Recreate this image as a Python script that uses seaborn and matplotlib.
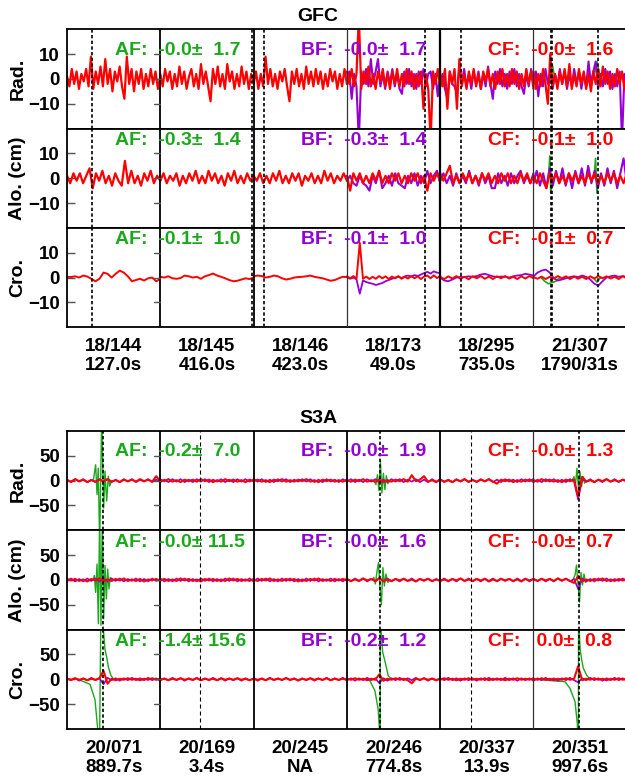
import numpy as np
import pandas as pd
import matplotlib
matplotlib.use('Agg')
import matplotlib.pyplot as plt
import matplotlib.transforms as mtransforms
import seaborn as sns

sns.set_theme(style='white')
plt.rcParams['font.family'] = ['Liberation Sans', 'DejaVu Sans']
plt.rcParams['font.weight'] = 'bold'
plt.rcParams['text.color'] = 'black'
plt.rcParams['ytick.color'] = 'black'
plt.rcParams['ytick.labelcolor'] = 'black'

# ---------------- data ----------------
row_names = ['Rad.', 'Alo. (cm)', 'Cro.']
gfc_seg_labels = ['18/144\n127.0s', '18/145\n416.0s', '18/146\n423.0s',
                  '18/173\n49.0s', '18/295\n735.0s', '21/307\n1790/31s']
s3a_seg_labels = ['20/071\n889.7s', '20/169\n3.4s', '20/245\nNA',
                  '20/246\n774.8s', '20/337\n13.9s', '20/351\n997.6s']

# event markers (segment units, each day segment spans 1)
gfc_events = [0.268, 1.980, 2.111, 3.837, 4.223, 5.184, 5.198, 5.688]
s3a_events = [0.383, 1.425, 3.360, 4.327, 5.489]

gfc_mean = {'AF': [-0.0, -0.3, -0.1], 'BF': [-0.0, -0.3, -0.1], 'CF': [-0.0, -0.1, -0.1]}
gfc_std = {'AF': [1.7, 1.4, 1.0], 'BF': [1.7, 1.4, 1.0], 'CF': [1.6, 1.0, 0.7]}
s3a_mean = {'AF': [-0.2, -0.0, -1.4], 'BF': [-0.0, -0.0, -0.2], 'CF': [-0.0, -0.0, 0.0]}
s3a_std = {'AF': [7.0, 11.5, 15.6], 'BF': [1.9, 1.6, 1.2], 'CF': [1.3, 0.7, 0.8]}

# GFC, CF (red) per segment
gfc_rad_cf = [
    [1,-3,4,-2,3,-4,2,-1,4,-3,9,-4,3,-2,5,-3,8,-2,4,-5,3,-1,5,-3,-8,9,-2,4,-5,3,-2,4,-4,2,-3,4,-2,3,-4,1],
    [2,-3,4,-1,3,-4,2,-3,5,-2,3,-4,1,4,-3,2,-4,6,-2,3,-3,-9,4,-2,5,-3,2,-4,6,-1,3,-4,2,-3,5,-2,3,-4,2,-1],
    [-2,3,-4,2,-3,9,-2,4,-3,2,-4,3,-1,4,-3,-9,3,-2,4,-3,2,-4,5,-2,3,-3,4,-2,3,-4,2,-3,4,-1,3,-4,2,-3,4,-2],
    [3,-2,4,-3,2,25,-4,3,-2,5,-3,2,-4,3,-1,4,-3,2,-4,3,-2,4,-3,2,-3,4,-2,3,-4,2,-3,3,-12,2,-4,-25,3,-2,4,-3],
    [2,-3,4,-12,3,-2,4,-12,8,-3,2,-4,3,-2,4,-3,2,-4,3,-1,4,-3,2,-4,3,-2,4,-3,2,-3,4,-2,3,-4,2,-3,4,-2,3,-4],
    [3,-4,2,-3,4,-2,-10,10,-3,2,-4,3,-2,4,-3,6,-4,2,-3,4,-2,3,-4,2,-5,3,-2,4,-3,5,-2,3,-4,2,-3,4,-2,3,-4,2],
]
gfc_alo_cf = [
    [1,-2,2,-1,2,-2,1,4,-4,2,-1,3,-2,1,-3,2,-1,-3,7,-2,3,-2,1,-3,2,-1,3,-2,1,-1],
    [-1,2,-2,1,-1,2,-3,1,-2,2,-1,3,-2,1,-2,3,-1,2,-2,1,-3,2,-1,3,-2,1,-2,2,-1,1],
    [1,-1,2,-2,1,-2,2,-1,3,-2,1,-2,2,-1,2,-3,1,-1,2,-2,1,-2,3,-1,2,-2,1,-1,2,-1],
    [1,-5,2,-1,2,-2,1,-2,2,-1,3,-2,1,-2,2,-1,2,-2,1,-2,2,-1,2,-2,1,-5,2,-1,2,-1],
    [2,-1,2,5,-2,1,-2,2,-1,2,-2,1,-2,2,-1,2,-2,1,-2,2,-1,2,-2,1,-2,2,-1,2,-2,1],
    [1,-2,2,-1,-4,2,-1,2,-2,1,-2,2,-1,2,-2,1,-2,2,-1,2,-2,1,-2,2,-1,2,-2,1,-2,2],
]
gfc_cro_cf = [
    [0.3,0.2,0.5,0,0.8,0.4,-0.5,-1.5,-0.5,2.0,1.5,0,1.5,2.8,2.0,0.5,-1.5,-1.0,-0.5,-1.2,-0.3,0,-1.5,-0.5],
    [0.3,0,0.5,-0.3,-0.5,-0.2,0.8,0.5,0,0.3,-0.5,0.5,1.0,1.6,0.8,0.3,-0.3,-1.0,-1.5,-1.3,-0.8,-0.3,-0.6,0],
    [0.5,0.8,0.6,0,0.3,0.8,0.5,-0.3,-0.8,-0.5,0,0.2,0.3,0.5,0.8,0.3,0,-0.3,-0.8,-1.3,-1.0,-0.3,0.3,0.2],
    [0.5,-0.3,0.6,-0.4,14,-0.5,0.4,-0.6,0.3,-0.5,0.6,-0.3,0.5,-0.6,0.4,-0.3,0.6,-0.5,0.3,-0.4,
     0.6,-0.3,0.5,-0.6,0.4,0.8,-0.3,0.9,-0.2,0.6],
    [0.3,-0.6,0.5,-0.4,0.6,-0.5,0.3,-0.7,0.5,-0.3,0.6,-0.5,0.4,-0.6,0.5,-0.3,0.6,-0.4,0.3,-0.6,0.5,-0.4,0.6,-0.3],
    [0.2,-0.5,0.4,-0.6,0.3,-0.4,0.6,-0.3,0.5,-0.6,0.4,-0.5,0.3,-0.6,0.5,-0.4,0.6,-0.3,0.5,-0.4,0.3,-0.6,0.5,-0.3],
]

# GFC, BF (purple) where it departs from CF
gfc_rad_bf = {
    3: [-2,3,-8,2,-3,-25,3,-2,4,-3,8,-2,3,8,-3,2,-4,3,-2,4,-3,2,-4,-6,3,-2,4,-3,2,-4,3,-2,4,-3,2,3,-4,2,-7,3],
    4: [-3,2,-4,-8,3,-2,-3,-6,5,-2,4,-3,2,-4,3,-2,3,-4,2,-3,5,-2,-8,3,-2,4,-3,2,-4,3,-2,4,-3,2,-3,-6,2,-3,4,-2],
    5: [-2,3,-7,2,-3,4,-2,3,-4,2,-3,4,-2,3,-4,2,-3,4,-2,3,-4,2,-3,7,-2,3,7,-4,2,-3,4,-2,3,-4,2,-3,3,-25,2,-3],
}
gfc_alo_bf = {
    3: [-1,1,-2,-3,1,-2,-3,-5,1,-2,3,-4,-2,1,-3,2,-2,-3,-4,1,-2,2,-3,1,-2,3,-2,1,3,-2],
    4: [-1,2,-2,1,-3,2,-2,1,-2,3,-2,1,-3,2,-2,1,-4,-4,2,-2,1,-3,2,-2,1,3,-2,1,-2,2],
    5: [-2,3,-3,2,-4,4,-3,3,-2,4,-3,2,-4,3,-2,4,-3,5,-2,3,-4,2,-3,4,-2,3,-4,2,8,-2],
}
gfc_cro_bf = {
    3: [0.2,-0.5,0,-0.8,-6.5,-1.2,-1.8,-2.2,-2.5,-3.0,-2.6,-2.2,-1.5,-1.0,-0.5,0,0.3,-0.2,0.5,0.8,
        0.4,1.0,0.6,1.2,1.8,2.3,1.6,2.5,2.0,1.8],
    4: [0,-1.2,-1.5,-0.8,0,0.3,0.2,0.5,0.3,0.6,1.2,1.5,1.0,0.5,0.2,0.4,0.3,0,0.5,0.8,1.0,1.5,1.2,0.8],
    5: [0.5,2.0,2.8,3.2,2.0,-0.3,-1.2,-0.8,-0.3,0.2,0.5,0.2,0.8,0.3,-0.8,-2.5,-3.2,-1.5,0,0.5,0.8,0.3,0.6,0.2],
}

# GFC, AF (green) pieces: (segment, times in segment, values)
gfc_rad_af = [(5, [0.17, 0.20, 0.23], [0, 6, 0]), (5, [0.64, 0.68, 0.72], [0, 7, 0])]
gfc_alo_af = [(5, [0.16, 0.175, 0.185, 0.20], [0, 9, -6, 0]), (5, [0.65, 0.665, 0.68, 0.695], [0, 8, -6, 0])]
gfc_cro_af = [(5, [0.08, 0.12, 0.16, 0.20, 0.24, 0.28], [0, -1.5, -2.5, -2.0, -1.5, 0]),
              (5, [0.64, 0.68, 0.72], [0, -1.8, 0])]

# S3A, CF (red)
s3a_rad_cf = [
    [1,-2,3,-1,2,-3,1,-2,2,-1,3,-2,1,-3,2,-1,2,-2,3,-1,2,-2,9,-2],
    [2,-1,3,-2,1,-3,2,-1,2,-2,3,-1,2,-3,1,-2,3,-1,2,-2,1,-3,2,-1],
    [-1,2,-2,1,-3,2,-1,3,-2,1,-2,2,-1,3,-2,1,-3,2,-1,2,-2,1,-2,2],
    [1,-2,2,-1,3,-2,1,-2,2,-3,1,-2,2,-1,3,-2,11,-1,2,9,-2,1,-3,2],
    [2,-2,1,-3,2,-1,3,-2,1,-2,2,-1,3,-2,-6,2,-1,2,-3,1,-2,2,-1,3],
    [1,-2,3,-1,2,-2,1,-3,2,-1,2,-32,8,-2,1,-3,2,-1,3,-2,1,-2,2,-1],
]
s3a_alo_cf = [
    [2,-1,2,-2,1,-3,2,-1,3,-2,1,-2,2,-1,3,-2,1,-2,2,-3,1,-1,2,-2],
    [-1,2,-2,1,-2,3,-1,2,-2,1,-3,2,-1,2,-2,1,-2,3,-1,2,-2,1,-2,2],
    [1,-2,2,-1,3,-2,1,-2,2,-1,2,-3,1,-2,2,-1,3,-2,1,-2,2,-1,2,-1],
    [2,-2,1,-2,3,-1,2,-2,4,-3,1,-2,2,-1,2,-2,1,-3,2,-1,2,-2,1,-2],
    [-2,1,-2,2,-1,3,-2,1,-2,2,-1,2,-3,1,-2,2,-1,2,-2,1,-3,2,-1,2],
    [1,-2,2,-1,2,-2,3,-1,2,-2,-6,8,-3,1,-2,2,-1,3,-2,1,-2,2,-1,2],
]
s3a_cro_cf = [
    [1,-1,2,-1,1,-2,1,-1,2,17,-9,1,-2,1,-1,2,-1,1,-2,1,-1,2,-1,1],
    [-1,1,-2,1,-1,2,-1,1,-1,2,-2,1,-1,1,-2,2,-1,1,-1,2,-1,1,-2,1],
    [1,-1,1,-2,2,-1,1,-1,2,-1,1,-2,1,-1,2,-1,1,-1,2,-2,1,-1,1,-1],
    [1,-1,2,-1,1,-2,1,-1,10,-3,1,-1,2,-1,1,-2,-8,1,-1,2,-1,1,-2,1],
    [-1,2,-1,1,-2,1,-1,2,-1,1,-1,2,-2,1,-1,1,-2,1,-1,2,-1,1,-1,2],
    [1,-1,2,-1,1,-2,1,-1,2,-1,1,26,-2,1,-1,2,-1,1,-2,1,-1,2,-1,1],
]

# S3A, BF (purple)
s3a_rad_bf = [
    [2,-3,3,-2,3,-3,2,-3,3,-2,3,-3,2,-3,3,-2,3,-3,2,-2,3,-3,2,-2],
    [-3,2,-3,3,-2,3,-3,2,-3,3,-2,3,-3,2,-2,3,-3,2,-3,3,-2,3,-2,2],
    [3,-2,3,-3,2,-3,3,-2,3,-3,2,-2,3,-2,3,-3,2,-3,3,-2,2,-3,3,-2],
    [-2,3,-3,2,-3,3,-2,3,-3,2,-3,3,-2,3,-3,2,-2,3,-3,2,-3,3,-2,3],
    [3,-3,2,-3,3,-2,3,-3,2,-3,3,-2,3,-3,2,-3,3,-2,2,-3,3,-2,3,-3],
    [-3,2,-3,3,-2,3,-3,2,-3,3,-2,-38,3,-2,3,-3,2,-3,3,-2,3,-3,2,-2],
]
s3a_alo_bf = [
    [-2,3,-3,2,-3,3,-2,3,-3,2,-3,3,-2,3,-3,2,-2,3,-3,2,-3,3,-2,2],
    [3,-3,2,-3,3,-2,3,-3,2,-3,3,-2,3,-3,2,-3,3,-2,3,-3,2,-2,3,-3],
    [-3,3,-2,3,-3,2,-3,3,-2,3,-3,2,-3,3,-2,3,-3,2,-2,3,-3,2,-3,3],
    [2,-3,3,-2,3,-3,2,-3,3,-2,3,-3,2,-3,3,-2,3,-3,2,-2,3,-3,2,-2],
    [-2,3,-3,2,-3,3,-2,3,-3,2,-3,3,-2,3,-3,3,-2,2,-3,3,-2,3,-3,2],
    [3,-2,3,-3,2,-3,3,-2,3,-3,2,-18,3,-3,2,-3,3,-2,3,-3,2,-2,3,-3],
]
s3a_cro_bf = [
    [2,-2,2,-3,2,-2,3,-2,2,-10,3,-2,2,-3,2,-2,3,-2,2,-2,3,-2,2,-3],
    [-2,2,-2,3,-2,2,-3,2,-2,3,-2,2,-2,3,-2,2,-3,2,-2,2,-3,2,-2,2],
    [2,-3,2,-2,3,-2,2,-2,3,-2,2,-3,2,-2,2,-3,2,-2,3,-2,2,-2,3,-2],
    [-2,2,-3,2,-2,3,-2,2,-8,2,-3,2,-2,3,-2,2,-2,3,-2,2,-3,2,-2,2],
    [2,-2,3,-2,2,-3,2,-2,2,-3,2,-2,3,-2,2,-2,3,-2,2,-3,2,-2,2,-3],
    [-3,2,-2,3,-2,2,-3,2,-2,3,-2,-6,2,-2,3,-2,2,-3,2,-2,3,-2,2,-3],
]

# S3A, AF (green) manoeuvre transients
s3a_rad_af = [
    (0, [0.282,0.307,0.322,0.335,0.350,0.372,0.393,0.407,0.425,0.443,0.458,0.479],
        [0,32,-28,25,-130,130,-55,19,-41,9,-11,0]),
    (3, [0.289,0.311,0.327,0.343,0.359,0.375,0.391,0.407,0.423,0.439,0.461],
        [0,-8,12,-20,40,-25,15,-18,10,-6,0]),
    (5, [0.413,0.434,0.450,0.466,0.482,0.498,0.514,0.531,0.547,0.563],
        [0,8,-8,25,-15,18,-12,8,-5,0]),
]
s3a_alo_af = [
    (0, [0.279,0.293,0.307,0.322,0.336,0.350,0.364,0.379,0.393,0.407,0.422,0.436,0.450,0.464,0.486],
        [0,9,-25,32,-88,130,-91,130,-78,29,-38,22,-18,5,0]),
    (3, [0.268,0.289,0.305,0.321,0.338,0.354,0.370,0.386,0.402,0.418,0.439,0.461],
        [0,5,-8,15,35,-15,-50,25,-12,12,-5,0]),
    (5, [0.423,0.445,0.461,0.477,0.493,0.509,0.525,0.541,0.557,0.573],
        [0,10,30,-10,-45,15,-10,12,-5,0]),
]
s3a_cro_af = [
    (0, [0.14,0.246,0.300,0.329,0.340,0.372,0.390,0.407,0.425,0.443,0.470,0.500],
        [-2,-10,-41,-100,-300,300,100,60,45,25,8,0]),
    (3, [0.211,0.246,0.300,0.335,0.352,0.356,0.358,0.362,0.383,0.407,0.443,0.479],
        [0,-3,-23,-60,-110,-300,300,110,55,37,7,0]),
    (5, [0.07,0.338,0.39,0.445,0.47,0.48,0.484,0.49,0.50,0.516,0.534,0.57,0.606],
        [-1,-5,-18,-45,-90,-300,300,100,60,40,22,8,0]),
]

# ---------------- layout ----------------
W, H = 625, 779
X0, SEG_W, ROW_H = 67, 93.3, 99.3
cols = {'AF': '#1ca81c', 'BF': '#9400d3', 'CF': '#ff0000'}
srcs = ['AF', 'BF', 'CF']


def even_frame(segs, src):
    items = segs.items() if isinstance(segs, dict) else enumerate(segs)
    parts = [pd.DataFrame({'t': k + np.linspace(0, 1, len(v)), 'v': v, 'unit': src + str(k)})
             for k, v in items]
    return pd.concat(parts, ignore_index=True)


def piece_frame(plist, src):
    parts = [pd.DataFrame({'t': k + np.asarray(tt), 'v': vv, 'unit': src + str(j)})
             for j, (k, tt, vv) in enumerate(plist)]
    return pd.concat(parts, ignore_index=True)


fig = plt.figure(figsize=(W / 100, H / 100), dpi=100)
fig.patch.set_facecolor('white')


def draw_panel(top, title, rows, ylim, yticks, events, event_fine, bound_lw, seg_labels,
               means, stds, row_lws):
    fig.text(318 / W, 1 - (top - 12.5) / H, title, ha='center', va='center', fontsize=14)
    text_off = [21, 12, 11.5]
    for r, (cf, bf, af) in enumerate(rows):
        y_top = top + r * ROW_H
        lws = row_lws[r]
        ax = fig.add_axes([X0 / W, 1 - (y_top + ROW_H) / H, 6 * SEG_W / W, ROW_H / H])
        for src, d, lw in (('AF', piece_frame(af, 'AF'), lws[0]),
                           ('BF', even_frame(bf, 'BF'), lws[1]),
                           ('CF', even_frame(cf, 'CF'), lws[2])):
            sns.lineplot(data=d, x='t', y='v', units='unit', estimator=None,
                         color=cols[src], linewidth=lw, ax=ax, legend=False)
        ax.set_xlim(0, 6)
        ax.set_ylim(*ylim)
        ax.set_xticks([])
        ax.set_yticks(yticks)
        ax.set_xlabel('')
        ax.set_ylabel('')
        ax.tick_params(axis='y', direction='in', length=6, width=1, color='#555',
                       labelcolor='black', pad=5, labelsize=13.5, left=True, right=False)
        for sp in ax.spines.values():
            sp.set_color('black')
            sp.set_linewidth(1.3)
        ax.spines['right'].set_visible(False)
        for k in range(1, 6):
            ax.axvline(k, color='black' if bound_lw[k - 1] > 1 else '#333',
                       lw=bound_lw[k - 1], zorder=6)
        for t, fine in zip(events, event_fine):
            if fine:
                ax.axvline(t, color='black', lw=0.8, ls=(0, (3.6, 2.7)), zorder=5)
            else:
                ax.axvline(t, color='black', lw=1.2, ls=(0, (2, 1.4)), zorder=5)
        # mirrored ticks on the right edge of the first segment
        tr = mtransforms.blended_transform_factory(ax.transAxes, ax.transData)
        for yv in yticks:
            ax.plot([1 / 6 - 6 / (6 * SEG_W), 1 / 6], [yv, yv], transform=tr,
                    color='#555', lw=1, zorder=6)
        trt = mtransforms.blended_transform_factory(ax.transData, ax.transAxes)
        for j, src in enumerate(srcs):
            ax.text([0.515, 2.51, 4.515][j], 1 - text_off[r] / ROW_H,
                    f'{src}: {means[src][r]:5.1f}±{stds[src][r]:5.1f}',
                    transform=trt, color=cols[src], fontsize=14, ha='left', va='center', zorder=7)
        fig.text(18 / W, 1 - (y_top + ROW_H / 2) / H, row_names[r], rotation=90,
                 ha='center', va='center', fontsize=14)
    for k, lab in enumerate(seg_labels):
        fig.text((X0 + SEG_W * (k + 0.5)) / W, 1 - (top + 3 * ROW_H + 29) / H, lab,
                 ha='center', va='center', fontsize=13.5, linespacing=1.15)


draw_panel(29.3, 'GFC',
           [(gfc_rad_cf, gfc_rad_bf, gfc_rad_af),
            (gfc_alo_cf, gfc_alo_bf, gfc_alo_af),
            (gfc_cro_cf, gfc_cro_bf, gfc_cro_af)],
           (-20, 20), [-10, 0, 10], gfc_events, [False] * len(gfc_events),
           [1.3, 1.3, 0.9, 1.6, 0.9], gfc_seg_labels, gfc_mean, gfc_std,
           [(1.2, 1.5, 1.6), (1.2, 1.5, 1.6), (1.2, 1.3, 1.4)])

draw_panel(431, 'S3A',
           [(s3a_rad_cf, s3a_rad_bf, s3a_rad_af),
            (s3a_alo_cf, s3a_alo_bf, s3a_alo_af),
            (s3a_cro_cf, s3a_cro_bf, s3a_cro_af)],
           (-100, 100), [-50, 0, 50], s3a_events, [False, True, False, True, False],
           [1.3, 1.3, 1.3, 1.3, 0.9], s3a_seg_labels, s3a_mean, s3a_std,
           [(1.0, 1.2, 1.5)] * 3)

fig.savefig('out.png', dpi=100)
